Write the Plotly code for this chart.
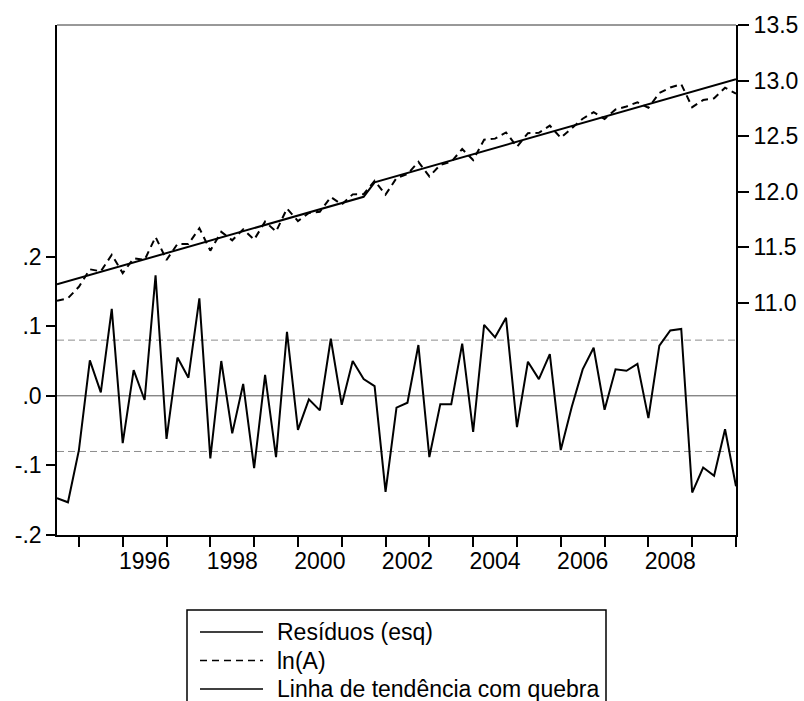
import pandas as pd
import plotly.graph_objects as go

# Quarterly sample
periodos = pd.period_range("1994Q3", "2010Q1", freq="Q")

# Residuals of the broken-trend regression (left axis)
residuos = [-0.147, -0.153, -0.078, 0.051, 0.005, 0.125, -0.068, 0.037, -0.006, 0.173,
            -0.062, 0.055, 0.026, 0.140, -0.090, 0.050, -0.054, 0.017, -0.104, 0.030,
            -0.088, 0.092, -0.049, -0.005, -0.021, 0.082, -0.013, 0.050, 0.024, 0.014,
            -0.138, -0.017, -0.010, 0.073, -0.088, -0.012, -0.012, 0.075, -0.052, 0.102,
            0.084, 0.112, -0.045, 0.049, 0.024, 0.060, -0.078, -0.016, 0.038, 0.069,
            -0.020, 0.038, 0.036, 0.046, -0.032, 0.072, 0.094, 0.096, -0.139, -0.103,
            -0.115, -0.048, -0.130]

# ln(A) (right axis)
ln_a = [11.021, 11.043, 11.146, 11.303, 11.285, 11.434, 11.269, 11.402, 11.387, 11.594,
        11.387, 11.532, 11.531, 11.673, 11.471, 11.640, 11.564, 11.663, 11.570, 11.732,
        11.642, 11.850, 11.737, 11.809, 11.821, 11.953, 11.886, 11.977, 11.979, 12.099,
        11.975, 12.124, 12.159, 12.270, 12.138, 12.242, 12.270, 12.385, 12.286, 12.468,
        12.478, 12.534, 12.405, 12.527, 12.531, 12.595, 12.485, 12.575, 12.657, 12.716,
        12.655, 12.741, 12.767, 12.805, 12.756, 12.888, 12.938, 12.968, 12.761, 12.825,
        12.841, 12.936, 12.882]

# Fitted trend with a level break (right axis)
tendencia = [11.168, 11.196, 11.224, 11.252, 11.280, 11.309, 11.337, 11.365, 11.393, 11.421,
             11.449, 11.477, 11.505, 11.533, 11.561, 11.590, 11.618, 11.646, 11.674, 11.702,
             11.730, 11.758, 11.786, 11.814, 11.842, 11.871, 11.899, 11.927, 11.955, 12.085,
             12.113, 12.141, 12.169, 12.197, 12.226, 12.254, 12.282, 12.310, 12.338, 12.366,
             12.394, 12.422, 12.450, 12.478, 12.507, 12.535, 12.563, 12.591, 12.619, 12.647,
             12.675, 12.703, 12.731, 12.759, 12.788, 12.816, 12.844, 12.872, 12.900, 12.928,
             12.956, 12.984, 13.012]

# Axis labels
anos_rotulo = ["1996", "1998", "2000", "2002", "2004", "2006", "2008"]
y_esq_vals = [-0.2, -0.1, 0.0, 0.1, 0.2]
y_esq_text = ["-.2", "-.1", ".0", ".1", ".2"]
y_dir_vals = [11.0, 11.5, 12.0, 12.5, 13.0, 13.5]
y_dir_text = ["11.0", "11.5", "12.0", "12.5", "13.0", "13.5"]
faixa_erro = 0.08

nomes = ["Resíduos (esq)", "ln(A)", "Linha de tendência com quebra"]

x = [p.year + (p.quarter - 1) / 4 for p in periodos]

FONT = "Liberation Sans, Arial, sans-serif"
FS = 23

fig = go.Figure()
fig.add_trace(go.Scatter(x=x, y=residuos, mode="lines", name=nomes[0],
                         line=dict(color="black", width=2), yaxis="y"))
fig.add_trace(go.Scatter(x=x, y=ln_a, mode="lines", name=nomes[1],
                         line=dict(color="black", width=2, dash="7px,5px"), yaxis="y2"))
fig.add_trace(go.Scatter(x=x, y=tendencia, mode="lines", name=nomes[2],
                         line=dict(color="black", width=2), yaxis="y2"))

shapes = [
    # zero line and +/- band on the residual scale
    dict(type="line", xref="paper", yref="y", x0=0, x1=1, y0=0, y1=0,
         line=dict(color="#555555", width=1), layer="below"),
    dict(type="line", xref="paper", yref="y", x0=0, x1=1, y0=faixa_erro, y1=faixa_erro,
         line=dict(color="#8c8c8c", width=1, dash="7px,4px"), layer="below"),
    dict(type="line", xref="paper", yref="y", x0=0, x1=1, y0=-faixa_erro, y1=-faixa_erro,
         line=dict(color="#8c8c8c", width=1, dash="7px,4px"), layer="below"),
    # top border
    dict(type="line", xref="paper", yref="paper", x0=0, x1=1, y0=1, y1=1,
         line=dict(color="#333333", width=1)),
]

# Legend box drawn below the plot
L, R, T, B = 57, 736, 25, 535
W, H = R - L, B - T


def px(X):
    return (X - L) / W


def py(Y):
    return (B - Y) / H


shapes.append(dict(type="rect", xref="paper", yref="paper",
                   x0=px(187), x1=px(606), y0=py(610), y1=py(725),
                   line=dict(color="black", width=1.5), fillcolor="white"))
linhas_y = [632, 660.5, 689]
estilos = ["solid", "7px,5px", "solid"]
annotations = []
for nome, yy, est in zip(nomes, linhas_y, estilos):
    shapes.append(dict(type="line", xref="paper", yref="paper",
                       x0=px(200), x1=px(263), y0=py(yy), y1=py(yy),
                       line=dict(color="black", width=1.5, dash=est)))
    annotations.append(dict(text=nome, xref="paper", yref="paper", x=px(275), y=py(yy),
                            xanchor="left", yanchor="middle", showarrow=False,
                            font=dict(family=FONT, size=FS, color="black")))

fig.update_layout(
    width=804, height=701,
    margin=dict(l=L, r=804 - R, t=T, b=701 - B, autoexpand=False),
    paper_bgcolor="white", plot_bgcolor="white",
    showlegend=False,
    font=dict(family=FONT, size=FS, color="black"),
    shapes=shapes,
    annotations=annotations,
    xaxis=dict(
        range=[1994.5, 2010.0],
        automargin=False,
        tickmode="array",
        tickvals=[int(a) + 0.5 for a in anos_rotulo],
        ticktext=anos_rotulo,
        ticks="outside", ticklen=4, tickcolor="rgba(0,0,0,0)",
        minor=dict(tickmode="array", tickvals=list(range(1995, 2011)),
                   ticks="outside", ticklen=10, tickwidth=2, tickcolor="black",
                   showgrid=False),
        showline=True, linecolor="black", linewidth=2,
        showgrid=False, zeroline=False,
        tickfont=dict(family=FONT, size=FS, color="black"),
    ),
    yaxis=dict(
        range=[-0.2, 0.5328],
        automargin=False,
        tickmode="array", tickvals=y_esq_vals, ticktext=y_esq_text,
        ticks="outside", ticklen=9, tickwidth=1.5, tickcolor="black",
        showline=True, linecolor="black", linewidth=1.5,
        showgrid=False, zeroline=False,
        tickfont=dict(family=FONT, size=FS, color="black"),
    ),
    yaxis2=dict(
        range=[8.914, 13.5],
        automargin=False,
        overlaying="y", side="right", anchor="x",
        tickmode="array", tickvals=y_dir_vals, ticktext=y_dir_text,
        ticks="outside", ticklen=11, tickwidth=1.5, tickcolor="black",
        showline=True, linecolor="black", linewidth=2,
        showgrid=False, zeroline=False,
        tickfont=dict(family=FONT, size=FS, color="black"),
    ),
)

fig.write_html("out.html")
